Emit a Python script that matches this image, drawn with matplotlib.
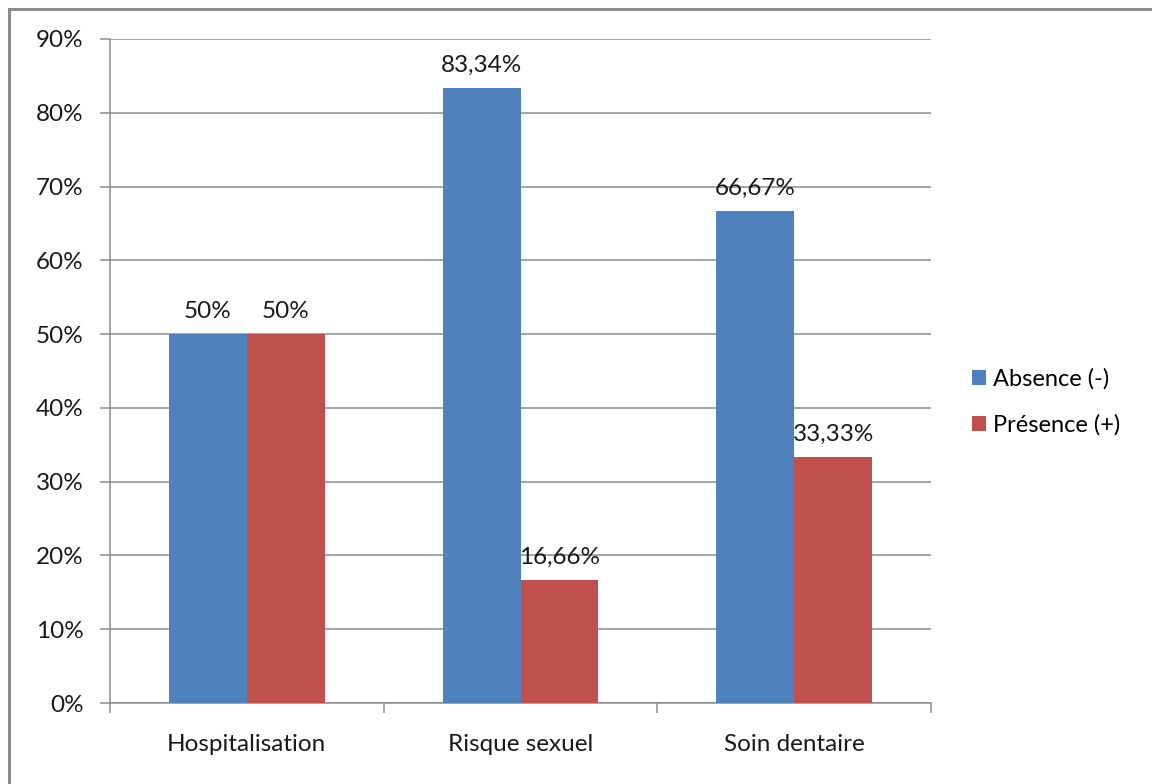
import numpy as np
import matplotlib.pyplot as plt
from matplotlib.patches import Rectangle

# Catégories et valeurs (%)
categories = ["Hospitalisation", "Risque sexuel", "Soin dentaire"]
absence = [50, 83.34, 66.67]
presence = [50, 16.66, 33.33]
series_names = ["Absence (-)", "Présence (+)"]
yticks = list(range(0, 91, 10))

plt.rcParams['font.family'] = ['Lato', 'DejaVu Sans']
FS = 17.5
TXT = '#1a1a1a'

fig = plt.figure(figsize=(11.52, 7.84), dpi=100)
ax = fig.add_axes([110 / 1152, 1 - 703 / 784, 821 / 1152, 664 / 784])

# cadre gris autour du graphique
fig.patches.append(Rectangle((9 / 1152, -0.1), 1.2, 1 - 9 / 784 + 0.1,
                             transform=fig.transFigure, fill=False,
                             edgecolor='#8c8c8c', linewidth=2.2))

x = np.arange(len(categories))
w = 0.285
b1 = ax.bar(x - w / 2, absence, w, color='#4F81BD', label=series_names[0], zorder=3)
b2 = ax.bar(x + w / 2, presence, w, color='#C0504D', label=series_names[1], zorder=3)

def fmt(v):
    s = f"{v:.2f}".rstrip('0').rstrip('.')
    return s.replace('.', ',') + '%'

for bars, vals in ((b1, absence), (b2, presence)):
    for r, v in zip(bars, vals):
        ax.annotate(fmt(v), (r.get_x() + r.get_width() / 2, v),
                    xytext=(0, 9), textcoords='offset points',
                    ha='center', va='bottom', fontsize=FS, color=TXT)

ax.set_xlim(-0.5, 2.5)
ax.set_ylim(0, 90)
ax.set_yticks(yticks)
ax.set_yticklabels([f"{t}%" for t in yticks], fontsize=FS, color=TXT)
ax.yaxis.grid(True, color='#8c8c8c', linewidth=1.1, zorder=0)
ax.tick_params(axis='y', length=7, width=1.1, color='#8c8c8c', pad=12)

# graduations de l'axe x entre les catégories
ax.set_xticks([-0.5, 0.5, 1.5, 2.5])
ax.set_xticklabels([])
ax.set_xticks(x, minor=True)
ax.set_xticklabels(categories, minor=True, fontsize=FS, color=TXT)
ax.tick_params(axis='x', which='major', length=7, width=1.1, color='#8c8c8c', direction='out')
ax.tick_params(axis='x', which='minor', length=0, pad=22)

for side in ('top', 'right'):
    ax.spines[side].set_visible(False)
for side in ('left', 'bottom'):
    ax.spines[side].set_color('#8c8c8c')
    ax.spines[side].set_linewidth(1.1)

ax.legend(loc='upper left', bbox_to_anchor=(953 / 1152, 1 - 349 / 784),
          bbox_transform=fig.transFigure, frameon=False, fontsize=17,
          handlelength=0.6, handleheight=0.6, handletextpad=0.3,
          labelspacing=1.05, borderpad=0.3)

fig.savefig('out.png', dpi=100)
